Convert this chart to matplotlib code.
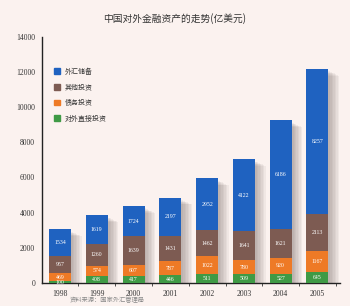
import numpy as np
import matplotlib.pyplot as plt
from matplotlib.patches import Patch

years = ['1998', '1999', '2000', '2001', '2002', '2003', '2004', '2005']
fdi = [100, 408, 417, 446, 511, 509, 527, 645]
bond = [469, 574, 607, 787, 1022, 780, 920, 1167]
other = [957, 1260, 1639, 1431, 1462, 1641, 1621, 2113]
reserve = [1534, 1619, 1724, 2197, 2952, 4122, 6186, 8257]

series = [fdi, bond, other, reserve]
names = ['对外直接投资', '债务投资', '其他投资', '外汇储备']
colors = ['#3f9a45', '#ee7a26', '#7d5b52', '#1f62c0']

cjk = ['Noto Sans CJK SC', 'DejaVu Sans']
num_font = 'Liberation Serif'
bg = '#fbf2ef'

fig = plt.figure(figsize=(3.5, 3.06), dpi=100, facecolor=bg)
ax = fig.add_axes([0.12, 0.075, 0.85, 0.805], facecolor=bg)

x = np.arange(len(years))
w = 0.6
totals = np.sum(series, axis=0)

# soft shadow behind the bars
for k in range(7):
    off = 0.05 + k * 0.04
    ax.bar(x + off, totals, w, bottom=-150 - k * 40, color='#6a5a58',
           alpha=0.07, linewidth=0, zorder=1)

bottom = np.zeros(len(years))
for vals, c in zip(series, colors):
    ax.bar(x, vals, w, bottom=bottom, color=c, linewidth=0, zorder=3)
    for xi, b, v in zip(x, bottom, vals):
        ax.text(xi, b + v / 2, str(v), ha='center', va='center',
                fontsize=4.2, color='white', family=num_font, zorder=4)
    bottom = bottom + np.array(vals)

ax.set_xlim(-0.49, 7.6)
ax.set_ylim(0, 14000)
ax.set_yticks(range(0, 14001, 2000))
ax.set_yticklabels([str(v) for v in range(0, 14001, 2000)],
                   family=num_font, fontsize=5.5, color='#333333')
ax.set_xticks(x)
ax.set_xticklabels(years, family=num_font, fontsize=5.5, color='#333333')
ax.tick_params(axis='both', length=0, pad=5)
ax.set_xticks(x + 0.5, minor=True)
ax.tick_params(axis='x', which='minor', length=2, width=0.6, color='#333333')
for s in ['top', 'right']:
    ax.spines[s].set_visible(False)
for s in ['left', 'bottom']:
    ax.spines[s].set_linewidth(1.0)
    ax.spines[s].set_color('#222222')

handles = [Patch(color=c, label=n) for c, n in zip(colors[::-1], names[::-1])]
ax.legend(handles=handles, loc='upper left', bbox_to_anchor=(0.02, 0.9),
          frameon=False, prop={'family': cjk, 'size': 5},
          handlelength=0.9, handleheight=0.9, handletextpad=0.6,
          labelspacing=1.1, labelcolor='#333333')

fig.text(0.5, 0.94, '中国对外金融资产的走势(亿美元)', ha='center', va='center',
         family=cjk, fontsize=7, color='#333333')
fig.text(0.2, 0.018, '资料来源：国家外汇管理局', ha='left', va='center',
         family=cjk, fontsize=4.5, color='#888888')

fig.savefig('out.png', dpi=100, facecolor=bg)
